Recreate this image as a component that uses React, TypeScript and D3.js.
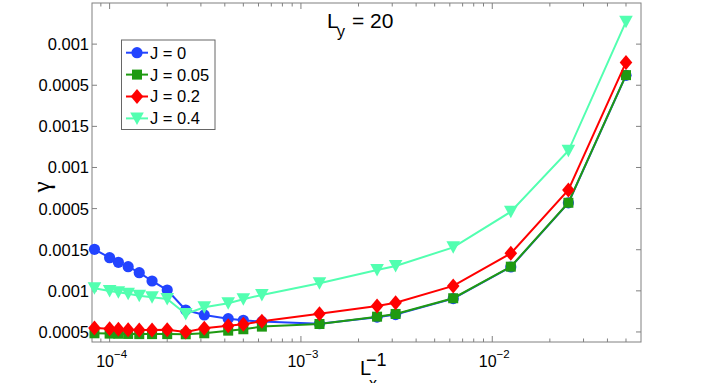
import React from "react";
import * as d3 from "d3";

const xValues = [1/12000, 1/10000, 1/9000, 1/8000, 1/7000, 1/6000, 1/5000, 1/4000, 1/3200, 1/2400, 1/2000, 1/1600, 1/800, 1/400, 1/320, 1/160, 1/80, 1/40, 1/20];

const seriesJ0 = [0.001505, 0.001403, 0.001347, 0.001294, 0.001221, 0.00112, 0.00101, 0.000767, 0.000707, 0.000662, 0.000642, 0.000626, 0.0006, 0.00068, 0.000712, 0.000905, 0.00129, 0.00207, 0.00362];
const seriesJ005 = [0.000484, 0.00048, 0.000478, 0.000476, 0.000474, 0.000474, 0.000474, 0.000472, 0.000484, 0.000516, 0.000533, 0.000565, 0.000597, 0.000686, 0.000719, 0.00091, 0.001294, 0.002071, 0.003623];
const seriesJ02 = [0.000548, 0.000538, 0.000533, 0.000528, 0.000524, 0.000524, 0.000528, 0.0005, 0.000545, 0.000577, 0.000594, 0.00063, 0.000722, 0.000816, 0.000856, 0.00106, 0.001456, 0.002226, 0.003778];
const seriesJ04 = [0.001031, 0.000998, 0.000982, 0.000965, 0.000941, 0.000922, 0.000901, 0.000719, 0.0008, 0.000849, 0.000897, 0.00095, 0.001092, 0.001254, 0.001302, 0.001529, 0.001962, 0.002703, 0.004273];

const legendLabels = ["J = 0", "J = 0.05", "J = 0.2", "J = 0.4"];
const yTickValues = [0.0005, 0.001, 0.0015, 0.002, 0.0025, 0.003, 0.0035, 0.004];
const yTickLabels = ["0.0005", "0.001", "0.0015", "0.0005", "0.001", "0.0015", "0.0005", "0.001"];
const xMajorTicks = [1e-4, 1e-3, 1e-2];
const xMajorExps = ["\u22124", "\u22123", "\u22122"];

const FONT = "'Liberation Sans', Arial, Helvetica, sans-serif";

const W = 708, H = 383;
const L = 92, R = 641, T = 3, B = 342;
const AXIS = "#808080";

type Series = { label: string; values: number[]; color: string; marker: string };

function Marker({ kind, color, x, y }: { kind: string; color: string; x: number; y: number }) {
  if (kind === "circle") return <circle cx={x} cy={y} r={5.6} fill={color} />;
  if (kind === "square") return <rect x={x - 5} y={y - 5} width={10} height={10} fill={color} />;
  if (kind === "diamond")
    return <path d={`M${x},${y - 7.5}L${x + 6.3},${y}L${x},${y + 7.5}L${x - 6.3},${y}Z`} fill={color} />;
  return <path d={`M${x - 6.8},${y - 6}L${x + 6.8},${y - 6}L${x},${y + 6.5}Z`} fill={color} />;
}

export default function App() {
  const x = d3.scaleLog().domain([8.09e-5, 0.0599]).range([L, R]);
  const y = d3.scaleLinear().domain([0.000378, 0.0045]).range([B, T]);

  const series: Series[] = [
    { label: legendLabels[0], values: seriesJ0, color: "#2244ff", marker: "circle" },
    { label: legendLabels[1], values: seriesJ005, color: "#1f9a12", marker: "square" },
    { label: legendLabels[2], values: seriesJ02, color: "#ff0000", marker: "diamond" },
    { label: legendLabels[3], values: seriesJ04, color: "#52ffb0", marker: "triangle" },
  ];

  const line = d3
    .line<[number, number]>()
    .x((d) => x(d[0]))
    .y((d) => y(d[1]));

  const minorTicks: number[] = [];
  for (let e = -5; e <= -1; e++) {
    for (let k = 2; k <= 9; k++) {
      const v = k * Math.pow(10, e);
      if (v >= x.domain()[0] && v <= x.domain()[1]) minorTicks.push(v);
    }
  }

  return (
    <svg width={W} height={H} style={{ position: "absolute", left: 0, top: 0, background: "#fff" }}>
      <rect x={0} y={0} width={W} height={H} fill="#fff" />
      <rect x={L} y={T} width={R - L} height={B - T} fill="#fff" stroke={AXIS} strokeWidth={1} />
      {xMajorTicks.map((v, i) => (
        <g key={"xm" + i}>
          <line x1={x(v)} x2={x(v)} y1={B} y2={B - 6} stroke={AXIS} />
          <line x1={x(v)} x2={x(v)} y1={T} y2={T + 6} stroke={AXIS} />
        </g>
      ))}
      {minorTicks.map((v, i) => (
        <g key={"xn" + i}>
          <line x1={x(v)} x2={x(v)} y1={B} y2={B - 3.5} stroke={AXIS} />
          <line x1={x(v)} x2={x(v)} y1={T} y2={T + 3.5} stroke={AXIS} />
        </g>
      ))}
      {yTickValues.map((v, i) => (
        <g key={"yt" + i}>
          <line x1={L} x2={L + 5} y1={y(v)} y2={y(v)} stroke={AXIS} />
          <line x1={R} x2={R - 5} y1={y(v)} y2={y(v)} stroke={AXIS} />
          <text x={89} y={y(v)} dy="0.36em" textAnchor="end" fontFamily={FONT} fontSize={16.5} fill="#000">
            {yTickLabels[i]}
          </text>
        </g>
      ))}
      {xMajorTicks.map((v, i) => (
        <text key={"xl" + i} x={x(v) + 2} y={366.5} textAnchor="middle" fontFamily={FONT} fontSize={16} fill="#000">
          10
          <tspan fontSize={11.5} dy={-8.5}>{xMajorExps[i]}</tspan>
        </text>
      ))}
      {series.map((s) => {
        const pts: [number, number][] = xValues.map((xv, i) => [xv, s.values[i]]);
        return (
          <g key={s.label}>
            <path d={line(pts) || ""} fill="none" stroke={s.color} strokeWidth={2} />
            {pts.map((p, i) => (
              <Marker key={i} kind={s.marker} color={s.color} x={x(p[0])} y={y(p[1])} />
            ))}
          </g>
        );
      })}
      <rect x={121.5} y={40} width={93.5} height={89.5} fill="#fff" stroke="#666" strokeWidth={1} />
      {series.map((s, i) => {
        const ly = 52.7 + i * 21.9;
        return (
          <g key={"lg" + i}>
            <line x1={126} x2={148} y1={ly} y2={ly} stroke={s.color} strokeWidth={2} />
            <Marker kind={s.marker} color={s.color} x={137} y={ly} />
            <text x={150} y={ly} dy="0.36em" fontFamily={FONT} fontSize={16.5} fill="#000">
              {s.label}
            </text>
          </g>
        );
      })}
      <text x={327} y={28} fontFamily={FONT} fontSize={21} fill="#000">
        L
      </text>
      <text x={337} y={37} fontFamily={FONT} fontSize={16} fill="#000">
        y
      </text>
      <text x={352} y={28} fontFamily={FONT} fontSize={21} fill="#000">
        = 20
      </text>
      <text x={360} y={375} fontFamily={FONT} fontSize={20} fill="#000">
        L
      </text>
      <text x={366} y={366} fontFamily={FONT} fontSize={18} fill="#000">
        {"\u22121"}
      </text>
      <text x={369} y={389} fontFamily={FONT} fontSize={16} fill="#000">
        x
      </text>
      <text
        transform="translate(50,187) rotate(-90)"
        textAnchor="middle"
        fontFamily="'Liberation Serif', 'DejaVu Serif', serif"
        fontSize={25}
        fill="#000"
      >
        {"\u03b3"}
      </text>
    </svg>
  );
}
